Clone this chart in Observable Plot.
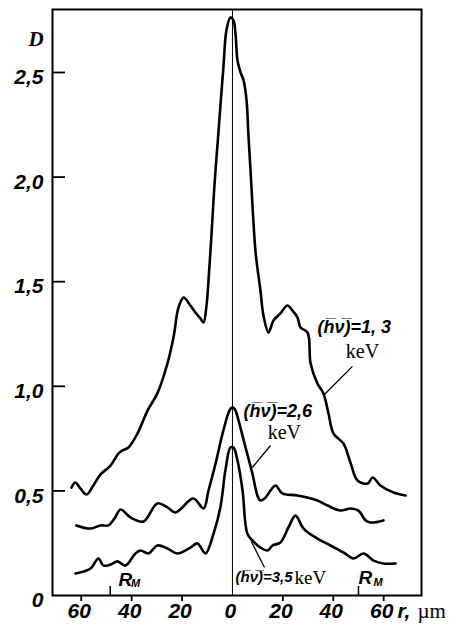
<!DOCTYPE html>
<html><head><meta charset="utf-8">
<script src="https://cdn.jsdelivr.net/npm/d3@7"></script>
<script src="https://cdn.jsdelivr.net/npm/@observablehq/plot@0.6"></script>
<style>html,body{margin:0;padding:0;background:#fff}</style>
</head><body><div id="chart"></div>
<script>
// Curve (h̄ν)=1,3 keV
const r13 = [-63.9,-62.3,-60.3,-57.9,-55.2,-52.4,-48.4,-45.2,-43.7,-41.3,-37.7,-33.7,-29.8,-25.8,-23.4,-21.4,-19.4,-16.7,-14.7,-12.7,-11.5,-10.3,-9.5,-8.3,-7.1,-5.6,-3.6,-2.4,-0.8,0.4,1.2,2.0,3.2,4.4,5.6,6.3,7.1,9.1,10.3,11.1,12.3,14.3,16.3,19.0,21.8,23.8,25.8,27.0,29.8,31.0,33.7,36.1,38.1,40.1,44.0,46.8,49.6,53.6,55.6,58.7,63.9,68.7];
const d13 = [0.516,0.540,0.511,0.483,0.526,0.578,0.621,0.679,0.693,0.707,0.774,0.884,0.966,1.109,1.233,1.377,1.424,1.386,1.353,1.324,1.305,1.386,1.506,1.730,1.969,2.208,2.524,2.701,2.763,2.749,2.686,2.557,2.500,2.462,2.366,2.208,2.046,1.649,1.530,1.458,1.338,1.257,1.315,1.348,1.386,1.362,1.329,1.281,1.257,1.109,1.013,0.966,0.870,0.774,0.727,0.636,0.550,0.535,0.564,0.526,0.492,0.478];
// Curve (h̄ν)=2,6 keV
const r26 = [-61.9,-56.3,-52.4,-49.2,-46.8,-44.4,-40.5,-35.3,-29.8,-25.8,-22.6,-15.5,-11.5,-9.5,-6.7,-3.6,-1.2,0,1.2,2.4,5.2,7.9,9.9,11.1,13.1,15.1,17.1,19.8,25.8,33.7,37.7,42.9,46.8,50.0,52.8,54.8,59.9];
const d26 = [0.335,0.320,0.335,0.335,0.368,0.411,0.373,0.354,0.440,0.421,0.397,0.464,0.416,0.502,0.631,0.789,0.884,0.899,0.884,0.837,0.707,0.583,0.478,0.454,0.468,0.502,0.526,0.488,0.478,0.454,0.430,0.406,0.416,0.406,0.359,0.349,0.359];
// Curve (h̄ν)=3,5 keV
const r35 = [-62.3,-56.3,-53.2,-51.2,-48.4,-45.6,-42.5,-38.5,-36.5,-33.3,-29.8,-25.8,-21.8,-16.7,-13.9,-10.7,-7.5,-4.8,-2.8,-0.8,0.4,2.0,4.0,5.9,7.9,11.1,13.9,15.9,19.0,22.2,25.0,28.2,33.7,38.9,44.0,48.0,52.0,56.0,59.9,64.7];
const d35 = [0.105,0.129,0.177,0.143,0.148,0.163,0.143,0.201,0.215,0.201,0.239,0.225,0.201,0.229,0.249,0.201,0.296,0.421,0.598,0.707,0.707,0.645,0.502,0.296,0.263,0.229,0.215,0.239,0.253,0.325,0.382,0.320,0.272,0.239,0.206,0.177,0.201,0.167,0.153,0.153];

const xTicks = [-60,-40,-20,0,20,40,60];
const yTicks = [0.5,1.0,1.5,2.0,2.5];
const yLabelVals = [0,0.5,1.0,1.5,2.0,2.5];
const yLabelText = ["0","0,5","1,0","1,5","2,0","2,5"];
const rmTicks = [-48.5, 50];

const annText = ["(h\u0305\u03BD\u0305)=1, 3", "(h\u0305\u03BD\u0305)=2,6"];
const annX = [33.7, 4.4];
const annY = [1.281, 0.880];
const ann3Text = ["(h\u0305\u03BD\u0305)=3,5"];
const ann3X = [1.2], ann3Y = [0.086];
const kevX = [51.6, 20.6];
const kevY = [1.166, 0.779];
const kev3X = [24.6], kev3Y = [0.086];
const leadX1 = [47.6, 15.1, 7.5], leadY1 = [1.095, 0.717, 0.258];
const leadX2 = [36.1, 7.9, 12.7], leadY2 = [0.956, 0.612, 0.134];

const curves = [
  ...r13.map((r,i)=>({s:"1.3", r, D:d13[i]})),
  ...r26.map((r,i)=>({s:"2.6", r, D:d26[i]})),
  ...r35.map((r,i)=>({s:"3.5", r, D:d35[i]}))
];

const FONT = "'Liberation Sans Narrow','Liberation Sans',sans-serif";
const SERIF = "'Liberation Serif','DejaVu Serif',serif";
const BI = {fontStyle: "italic", fontWeight: "bold"};
const REG = {fontFamily: SERIF, fontStyle: "normal", fontWeight: "normal"};

const chart = Plot.plot({
  width: 454, height: 631,
  marginLeft: 52, marginRight: 33, marginTop: 9, marginBottom: 36,
  x: {domain: [-71.4, 75.0], label: null},
  y: {domain: [0, 2.801], label: null},
  style: {fontFamily: FONT, fontWeight: "bold", fontStyle: "italic", fontSize: "20px", background: "#fff", color: "#000", overflow: "visible"},
  marks: [
    Plot.frame({stroke: "#000", strokeWidth: 2}),
    Plot.ruleX([0], {stroke: "#000", strokeWidth: 1}),
    Plot.axisY(yTicks, {tickSize: -13, tickFormat: () => "", strokeWidth: 1.8}),
    Plot.text(yLabelVals, {y: d => d, text: (d,i) => yLabelText[i], frameAnchor: "left", dx: -9, dy: 5, textAnchor: "end", fontSize: 21, ...BI}),
    Plot.axisX(xTicks.filter(d => d !== 0), {tickSize: 6, tickFormat: () => "", strokeWidth: 1.8}),
    Plot.text(xTicks, {x: d => d, text: d => String(Math.abs(d)), frameAnchor: "bottom", dy: 22, dx: -2, fontSize: 21, ...BI}),
    Plot.text(["r,"], {x: [65.5], frameAnchor: "bottom", dy: 22, textAnchor: "start", fontSize: 21, ...BI}),
    Plot.text(["\u00B5m"], {x: [73.4], frameAnchor: "bottom", dy: 22, textAnchor: "start", fontSize: 21, ...REG}),
    Plot.axisX(rmTicks, {tickSize: -9, tickFormat: () => "", strokeWidth: 1.5}),
    Plot.text(["D"], {frameAnchor: "top-left", dx: -24, dy: 22, fontSize: 21, fontFamily: SERIF, ...BI}),
    Plot.line(curves, {x: "r", y: "D", z: "s", curve: "catmull-rom", stroke: "#000", strokeWidth: 2.6, strokeLinejoin: "round"}),
    Plot.link(leadX1, {x1: leadX1, y1: leadY1, x2: leadX2, y2: leadY2, stroke: "#000", strokeWidth: 1.3}),
    Plot.text(annText, {x: annX, y: annY, text: d => d, textAnchor: "start", fontSize: 18, ...BI}),
    Plot.text(ann3Text, {x: ann3X, y: ann3Y, text: d => d, textAnchor: "start", fontSize: 15, ...BI}),
    Plot.text(["keV","keV"], {x: kevX, y: kevY, text: d => d, textAnchor: "middle", fontSize: 20, ...REG}),
    Plot.text(["keV"], {x: kev3X, y: kev3Y, text: d => d, textAnchor: "start", fontSize: 19, ...REG}),
    Plot.text(["R","R"], {x: [-45.2, 50.0], y: [0.076, 0.086], text: d => d, textAnchor: "start", fontSize: 19, ...BI}),
    Plot.text(["M","M"], {x: [-40.3, 56.0], y: [0.056, 0.064], text: d => d, textAnchor: "start", fontSize: 11, ...BI})
  ]
});
document.getElementById("chart").appendChild(chart);
</script>
</body></html>
